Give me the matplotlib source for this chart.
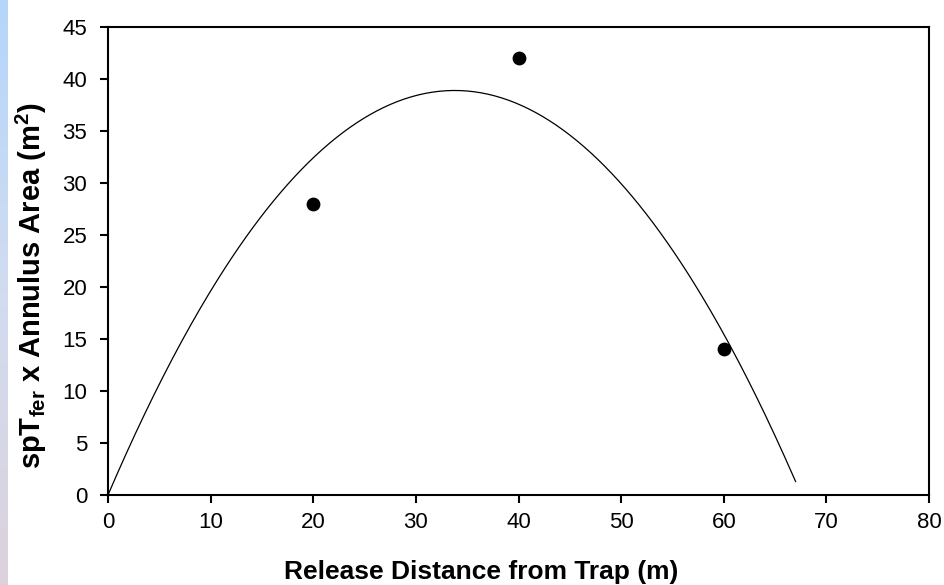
import numpy as np
import matplotlib
matplotlib.use("Agg")
import matplotlib.pyplot as plt

# release distance (m) and spT_fer x annulus area (m^2)
distance = [20, 40, 60]
area = [28, 42, 14]

# quadratic fit through the origin, drawn out to where it meets the axis
curve_end = 67

plt.rcParams['font.family'] = ['Liberation Sans', 'DejaVu Sans']
plt.rcParams['mathtext.fontset'] = 'custom'
plt.rcParams['mathtext.bf'] = 'Liberation Sans:bold'
plt.rcParams['mathtext.rm'] = 'Liberation Sans'

fig = plt.figure(figsize=(9.44, 5.85), dpi=100)

# the blue strip on the left edge
strip = fig.add_axes([0, 0, 8 / 944, 1])
grad = np.linspace(0, 1, 256).reshape(-1, 1)
cmap = matplotlib.colors.LinearSegmentedColormap.from_list("strip", ["#b4d6fa", "#d2dcf0", "#dcd2dc"])
strip.imshow(grad, aspect='auto', cmap=cmap)
strip.axis('off')

ax = fig.add_axes([108 / 944, 1 - 495 / 585, 821 / 944, 468 / 585])

x = np.array(distance, dtype=float)
y = np.array(area, dtype=float)
A = np.column_stack([x, x ** 2])
coef = np.linalg.lstsq(A, y, rcond=None)[0]
xs = np.linspace(0, curve_end, 300)
ax.plot(xs, coef[0] * xs + coef[1] * xs ** 2, color='black', lw=0.9)

ax.scatter(distance, area, s=80, color='black', zorder=3, clip_on=False)

ax.set_xlim(0, 80)
ax.set_ylim(0, 45)
ax.set_xticks(range(0, 81, 10))
ax.set_yticks(range(0, 46, 5))
ax.tick_params(direction='out', length=6, width=1.5, labelsize=16, colors='black')
ax.tick_params(axis='x', pad=6)
ax.tick_params(axis='y', pad=9)
for s in ax.spines.values():
    s.set_linewidth(1.5)

ax.set_xlabel("Release Distance from Trap (m)", fontsize=19, fontweight='bold')
ax.set_ylabel(r"spT$_\mathbf{fer}$ x Annulus Area (m$^\mathbf{2}$)", fontsize=21, fontweight='bold')
ax.xaxis.set_label_coords(0.454, -0.138)
ax.yaxis.set_label_coords(-0.072, 0.447)

fig.savefig("out.png", dpi=100)
